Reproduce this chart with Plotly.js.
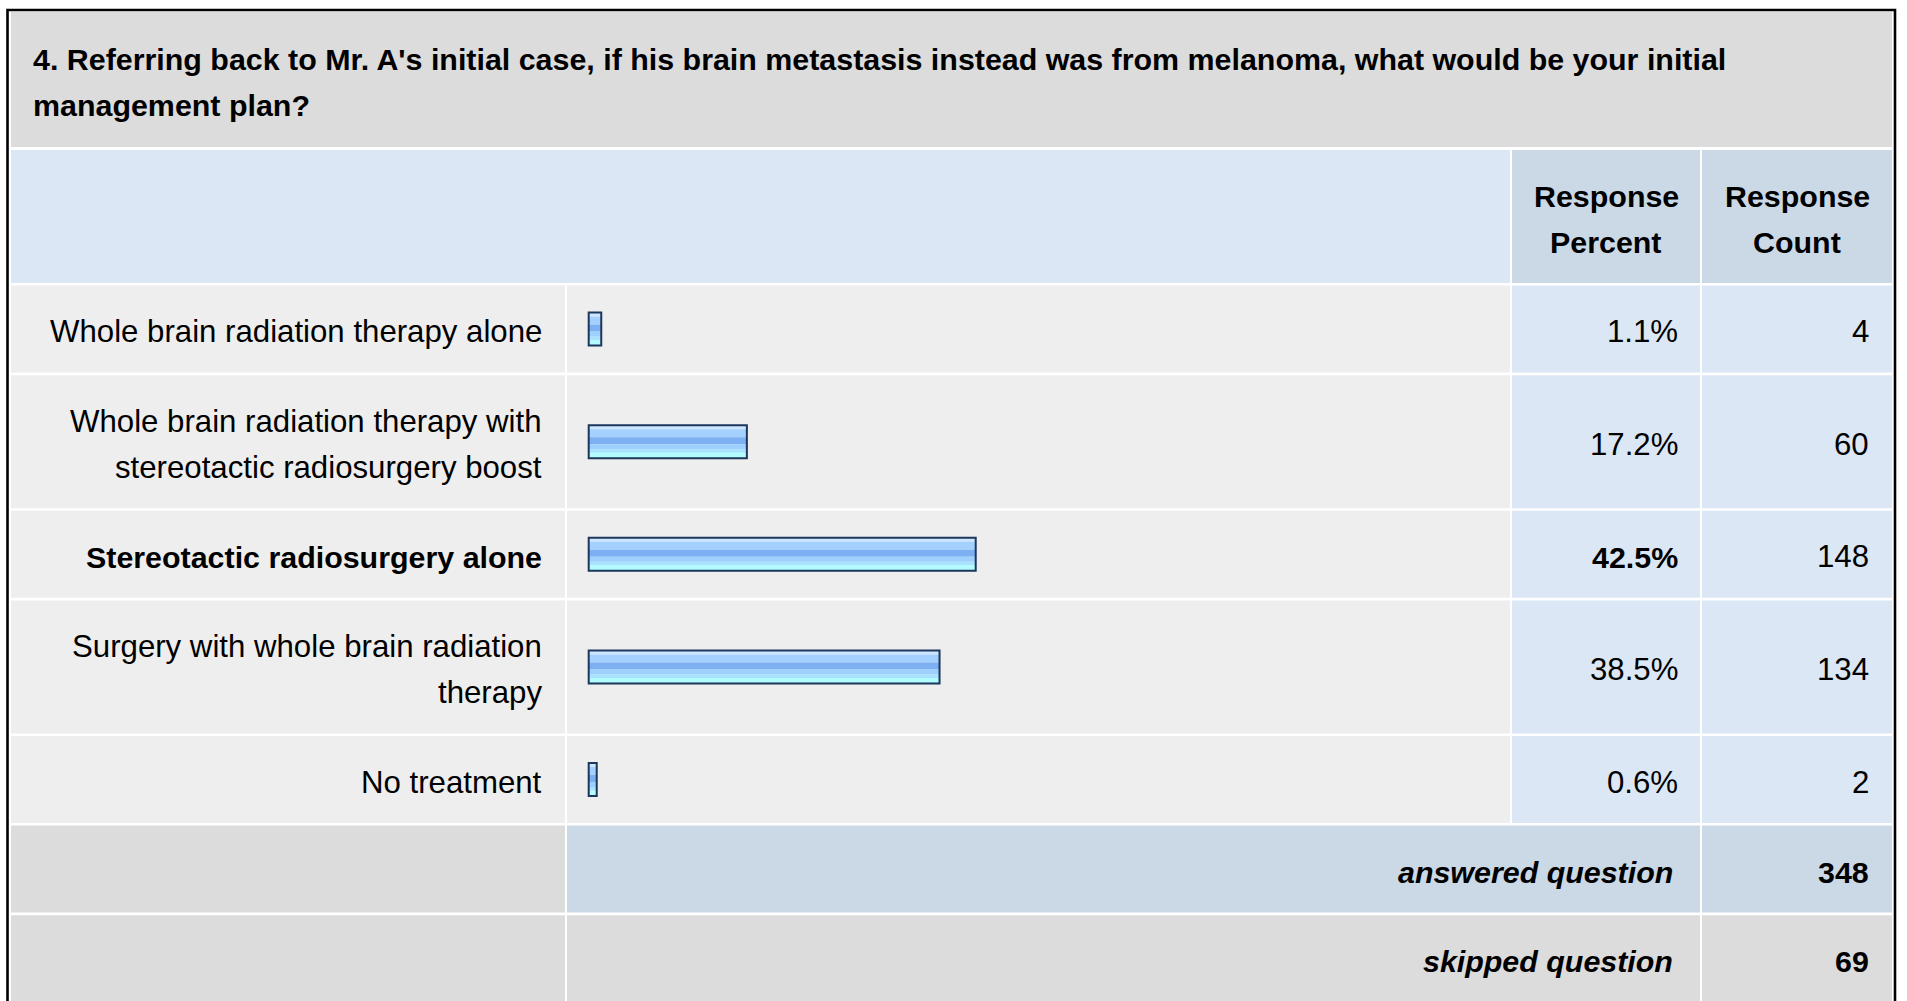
<!DOCTYPE html>
<html><head><meta charset="utf-8">
<script src="https://cdn.plot.ly/plotly-3.0.1.min.js"></script>
<style>html,body{margin:0;padding:0;background:#fff;overflow:hidden}</style>
</head><body><div id="chart" style="width:1907px;height:1001px"></div>
<script>
// ---------------- data ----------------
const questionLines = [
  "4. Referring back to Mr. A's initial case, if his brain metastasis instead was from melanoma, what would be your initial",
  "management plan?"
];
const answerLabels = [
  ["Whole brain radiation therapy alone"],
  ["Whole brain radiation therapy with", "stereotactic radiosurgery boost"],
  ["Stereotactic radiosurgery alone"],
  ["Surgery with whole brain radiation", "therapy"],
  ["No treatment"]
];
const responsePercent = [1.1, 17.2, 42.5, 38.5, 0.6];
const responseCount = [4, 60, 148, 134, 2];
const headerPercent = ["Response", "Percent"];
const headerCount = ["Response", "Count"];
const summaryLabels = ["answered question", "skipped question"];
const summaryCounts = [348, 69];

// ---------------- layout geometry (pixels) ----------------
const W = 1907, H = 1001;
const FONT = "Liberation Sans, Arial, Helvetica, sans-serif";
const colL = [11, 565], colB = [567, 1510], colP = [1512, 1700], colC = [1702, 1892];
const LINE = 46, SINGLE = 87, GAP = 2.6;
const pxPerPct = 9.045, zeroPx = 590, padPx = 1.3;
const TEXT_DY = 2.5;

const C = {
  title: "#dcdcdc", head: "#dce7f5", headNum: "#cbd8e6",
  row: "#eeeeee", rowNum: "#dce7f5", sumMid: "#cbd8e6", sumGray: "#dcdcdc",
  barLine: "#1c365c"
};
const stripes = [
  [-16.5, -12.5, "#cde6ff"],
  [-12.5, -4.5, "#a3d0ff"],
  [-4.5, 2.5, "#7cb0f2"],
  [2.5, 7.5, "#9dcfff"],
  [7.5, 11, "#a7e3ff"],
  [11, 16.5, "#b2fcff"]
];

const px = x => x / W;
const shapes = [], annotations = [];
function cell(x0, x1, y0, y1, color) {
  shapes.push({type: "rect", layer: "below", xref: "paper", yref: "y",
    x0: px(x0), x1: px(x1), y0: y0, y1: y1, fillcolor: color, line: {width: 0}});
}
function txt(text, x, y, anchor, size, opts) {
  annotations.push(Object.assign({text: text, xref: "paper", yref: "y", x: px(x), y: y,
    xanchor: anchor, yanchor: "middle", showarrow: false, borderpad: 0,
    font: {family: FONT, size: size, color: "#000"}}, opts || {}));
}
function lines(arr, center) {
  const n = arr.length;
  return arr.map((t, i) => [t, center + TEXT_DY + (i - (n - 1) / 2) * LINE]);
}

// title band
const titleTop = 12, titleBot = 147;
cell(colL[0], colC[1], titleTop, titleBot, C.title);
lines(questionLines, (titleTop + titleBot) / 2).forEach(([t, y]) =>
  txt("<b>" + t + "</b>", 32, y, "left", 30.4));

// header row
const headTop = 150, headBot = 283;
cell(colL[0], colB[1], headTop, headBot, C.head);
cell(colP[0], colP[1], headTop, headBot, C.headNum);
cell(colC[0], colC[1], headTop, headBot, C.headNum);
lines(headerPercent, (headTop + headBot) / 2).forEach(([t, y]) =>
  txt("<b>" + t + "</b>", (colP[0] + colP[1]) / 2, y, "center", 30.4));
lines(headerCount, (headTop + headBot) / 2).forEach(([t, y]) =>
  txt("<b>" + t + "</b>", (colC[0] + colC[1]) / 2, y, "center", 30.4));

// answer rows
const maxPct = Math.max(...responsePercent);
let y = headBot + GAP;
const rowCenters = [];
answerLabels.forEach((lab, i) => {
  const h = SINGLE + (lab.length - 1) * LINE;
  const y0 = y, y1 = y + h, c = (y0 + y1) / 2;
  rowCenters.push(c);
  cell(colL[0], colL[1], y0, y1, C.row);
  cell(colB[0], colB[1], y0, y1, C.row);
  cell(colP[0], colP[1], y0, y1, C.rowNum);
  cell(colC[0], colC[1], y0, y1, C.rowNum);
  const bold = responsePercent[i] === maxPct;
  lines(lab, c).forEach(([t, ty]) =>
    txt(bold ? "<b>" + t + "</b>" : t, colL[1] - 22, ty, "right", bold ? 30.4 : 31.2));
  const pt = responsePercent[i].toFixed(1) + "%";
  txt(bold ? "<b>" + pt + "</b>" : pt, colP[1] - 21.5, c + TEXT_DY, "right", bold ? 30.4 : 31.2);
  txt(String(responseCount[i]), colC[1] - 22, c + TEXT_DY, "right", 31.2);
  y = y1 + GAP;
});

// summary rows
summaryLabels.forEach((lab, i) => {
  const y0 = y, y1 = y + SINGLE, c = (y0 + y1) / 2;
  cell(colL[0], colL[1], y0, y1, C.sumGray);
  cell(colB[0], colP[1], y0, y1, i === 0 ? C.sumMid : C.sumGray);
  cell(colC[0], colC[1], y0, y1, i === 0 ? C.sumMid : C.sumGray);
  txt("<b><i>" + lab + "</i></b>", colP[1] - 26, c + TEXT_DY, "right", 30.4);
  txt("<b>" + summaryCounts[i] + "</b>", colC[1] - 22, c + TEXT_DY, "right", 30.4);
  y = y1 + GAP;
});

// outer frame
shapes.push({type: "rect", layer: "above", xref: "paper", yref: "y",
  x0: px(7.5), x1: px(1895), y0: 10, y1: 1200, line: {color: "#000", width: 2.6}, fillcolor: "rgba(0,0,0,0)"});

// ---------------- bars ----------------
const padData = padPx / pxPerPct;
const barLen = responsePercent.map(p => p + 2 * padData);
const barBase = responsePercent.map(() => -padData);
const traces = stripes.map(([t, b, col]) => ({
  type: "bar", orientation: "h", x: barLen, base: barBase, y: rowCenters,
  offset: t, width: b - t, marker: {color: col, line: {width: 0}},
  hoverinfo: "skip", showlegend: false
}));
traces.push({
  type: "bar", orientation: "h", x: barLen, base: barBase, y: rowCenters,
  offset: -16.5, width: 33, marker: {color: "rgba(0,0,0,0)", line: {color: C.barLine, width: 2}},
  hoverinfo: "skip", showlegend: false
});

// x axis spans the whole bar column; 0% sits at zeroPx
const layout = {
  width: W, height: H, margin: {l: 0, r: 0, t: 0, b: 0, pad: 0},
  paper_bgcolor: "#ffffff", plot_bgcolor: "rgba(0,0,0,0)",
  barmode: "overlay", showlegend: false,
  xaxis: {domain: [colB[0] / W, colB[1] / W],
    range: [(colB[0] - zeroPx) / pxPerPct, (colB[1] - zeroPx) / pxPerPct],
    visible: false, fixedrange: true},
  yaxis: {domain: [0, 1], range: [H, 0], visible: false, fixedrange: true},
  shapes: shapes, annotations: annotations
};
Plotly.newPlot("chart", traces, layout, {displayModeBar: false, staticPlot: true});
</script>
</body></html>
